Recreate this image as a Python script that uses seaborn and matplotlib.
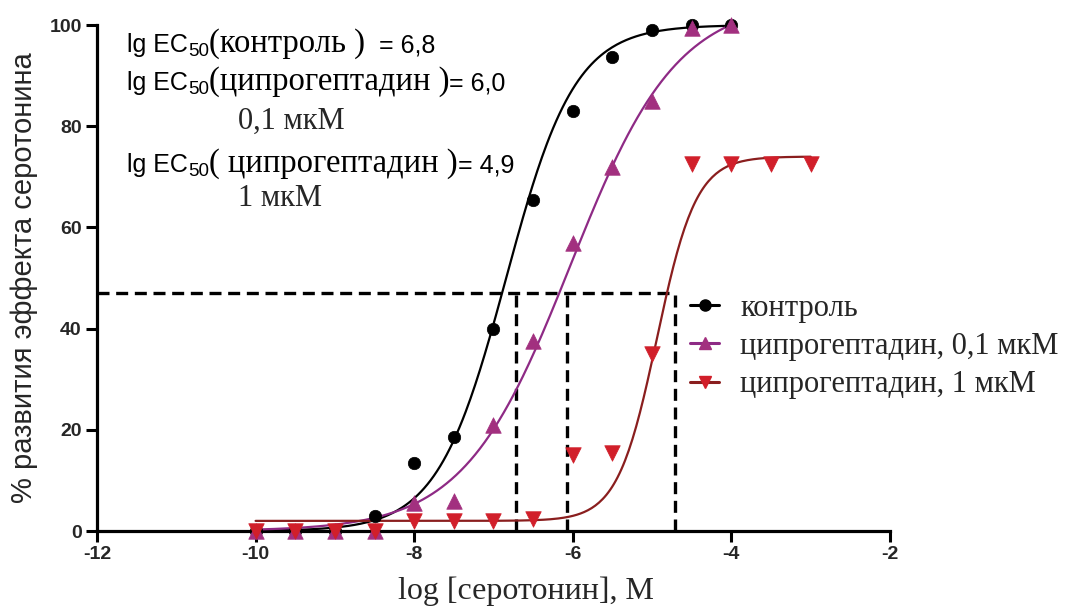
import numpy as np
import pandas as pd
import matplotlib
matplotlib.use("Agg")
import matplotlib.pyplot as plt
from matplotlib.lines import Line2D
import seaborn as sns

# Concentration–response data (% of maximal serotonin effect)
log_conc = [-10, -9.5, -9, -8.5, -8, -7.5, -7, -6.5, -6, -5.5, -5, -4.5, -4]
control = [0, 0, 0, 3, 13.5, 18.5, 40, 65.5, 83, 93.7, 99, 100, 100]
cypro_01 = [0, 0, 0, 0, 5.5, 6, 21, 37.5, 57, 72, 85, 99.5, 100]
log_conc_1 = [-10, -9.5, -9, -8.5, -8, -7.5, -7, -6.5, -6, -5.5, -5, -4.5, -4, -3.5, -3]
cypro_1 = [0, 0, 0, 0, 2, 2, 2, 2.4, 15, 15.5, 35, 72.5, 72.5, 72.5, 72.5]

series_names = ["контроль", "ципрогептадин, 0,1 мкМ", "ципрогептадин, 1 мкМ"]
ec50_names = ["(контроль )", "(ципрогептадин )", "( ципрогептадин )"]
ec50_conc = ["", "0,1 мкМ", "1 мкМ"]

# Four-parameter logistic fits: bottom, top, logEC50, Hill slope
fit_bottom = [0, 0, 2]
fit_top = [100, 105, 74]
fit_log_ec50 = [-6.84, -6.03, -4.94]
fit_hill = [1.0, 0.645, 1.75]
fit_range = [(-10, -4), (-10, -4), (-10, -3)]

# Dashed guide lines at the half-effect level
guide_level = 47
guide_x = [-6.72, -6.07, -4.71]

x_ticks = [-12, -10, -8, -6, -4, -2]
y_ticks = [0, 20, 40, 60, 80, 100]

marker_colors = ["#000000", "#A2307F", "#D11F2A"]
line_colors = ["#000000", "#8E2A85", "#8A1E1E"]
markers = ["o", "^", "v"]
marker_sizes = [80, 125, 125]

SANS = "Liberation Sans"
SERIF = "Liberation Serif"

sns.set_style("ticks")
plt.rcParams["font.family"] = [SANS, "DejaVu Sans"]

W, H = 1089, 612
fig = plt.figure(figsize=(W / 100, H / 100), dpi=100)
ax = fig.add_axes([97 / W, 1 - 531 / H, (890 - 97) / W, (531 - 25) / H])

points = pd.concat([
    pd.DataFrame({"x": log_conc, "y": control, "s": series_names[0]}),
    pd.DataFrame({"x": log_conc, "y": cypro_01, "s": series_names[1]}),
    pd.DataFrame({"x": log_conc_1, "y": cypro_1, "s": series_names[2]}),
], ignore_index=True)


def logistic(x, bottom, top, log_ec50, hill):
    return bottom + (top - bottom) / (1 + 10 ** ((log_ec50 - x) * hill))


# Guide lines
ax.plot([-12, max(guide_x)], [guide_level, guide_level], color="black", lw=2.4,
        dashes=(3.6, 2.0), zorder=2, clip_on=False)
for gx in guide_x:
    ax.plot([gx, gx], [0, guide_level], color="black", lw=2.4,
            dashes=(3.6, 2.0), zorder=2, clip_on=False)

# Fitted curves and data points
for i, name in enumerate(series_names):
    lo, hi = fit_range[i]
    xs = np.linspace(lo, hi, 300)
    curve = pd.DataFrame({"x": xs, "y": logistic(xs, fit_bottom[i], fit_top[i],
                                                  fit_log_ec50[i], fit_hill[i])})
    sns.lineplot(data=curve, x="x", y="y", ax=ax, color=line_colors[i], lw=1.6,
                 clip_on=False, zorder=3)
for i, name in enumerate(series_names):
    sub = points[points["s"] == name]
    sns.scatterplot(data=sub, x="x", y="y", ax=ax, marker=markers[i],
                    color=marker_colors[i], s=marker_sizes[i], edgecolor=marker_colors[i],
                    linewidth=0.5, clip_on=False, zorder=4, legend=False)

ax.set_xlim(-12, -2)
ax.set_ylim(0, 100)
ax.set_xticks(x_ticks)
ax.set_yticks(y_ticks)
ax.set_xticklabels([str(t) for t in x_ticks])
for lab in ax.get_xticklabels() + ax.get_yticklabels():
    lab.set_fontfamily(SANS)
    lab.set_fontweight("bold")
    lab.set_fontsize(14)
ax.tick_params(axis="both", direction="out", length=8, width=2.2, color="black", pad=3)
sns.despine(ax=ax)
for side in ["left", "bottom"]:
    ax.spines[side].set_linewidth(2.3)
    ax.spines[side].set_color("black")
    ax.spines[side].set_zorder(2.5)

ax.set_xlabel("log [серотонин], М", fontfamily=SERIF, fontsize=23)
ax.xaxis.set_label_coords((526 - 97) / (890 - 97), (531 - 576) / (531 - 25))
ax.set_ylabel("% развития эффекта серотонина", fontfamily=SANS, fontsize=21, labelpad=8)

# Legend
handles = [Line2D([0], [0], color=line_colors[i], lw=2.2, marker=markers[i],
                  markersize=8, markerfacecolor=marker_colors[i],
                  markeredgecolor=marker_colors[i]) for i in range(3)]
leg = fig.legend(handles, series_names, loc="upper left",
                 bbox_to_anchor=(690 / W, 1 - 294 / H), bbox_transform=fig.transFigure,
                 frameon=False, borderpad=0, borderaxespad=0, handlelength=0.95,
                 handletextpad=0.7, labelspacing=0.3,
                 prop={"family": SERIF, "size": 22})

# EC50 annotations built from mixed sans / serif pieces
renderer = fig.canvas.get_renderer()


def put_pieces(x0, base_y, pieces):
    x = x0
    for txt, fam, size, dy in pieces:
        t = fig.text(x / W, 1 - (base_y - dy) / H, txt, fontfamily=fam,
                     fontsize=size, va="baseline", ha="left", color="black")
        x += t.get_window_extent(renderer).width
    return x


ec50_baselines = [52, 90, 172]
conc_baselines = [None, 129, 206]
for i in range(3):
    value = f"{-fit_log_ec50[i]:.1f}".replace(".", ",")
    eq = f"  = {value}" if i == 0 else f"= {value}"
    put_pieces(127, ec50_baselines[i], [
        ("lg EC", SANS, 18, 0),
        ("50", SANS, 13.5, -4),
        (ec50_names[i], SERIF, 23.5, 0),
        (eq, SANS, 18, 0),
    ])
    if ec50_conc[i]:
        fig.text(238 / W, 1 - conc_baselines[i] / H, ec50_conc[i], fontfamily=SERIF,
                 fontsize=22, va="baseline", ha="left")

fig.savefig("out.png", dpi=100)
